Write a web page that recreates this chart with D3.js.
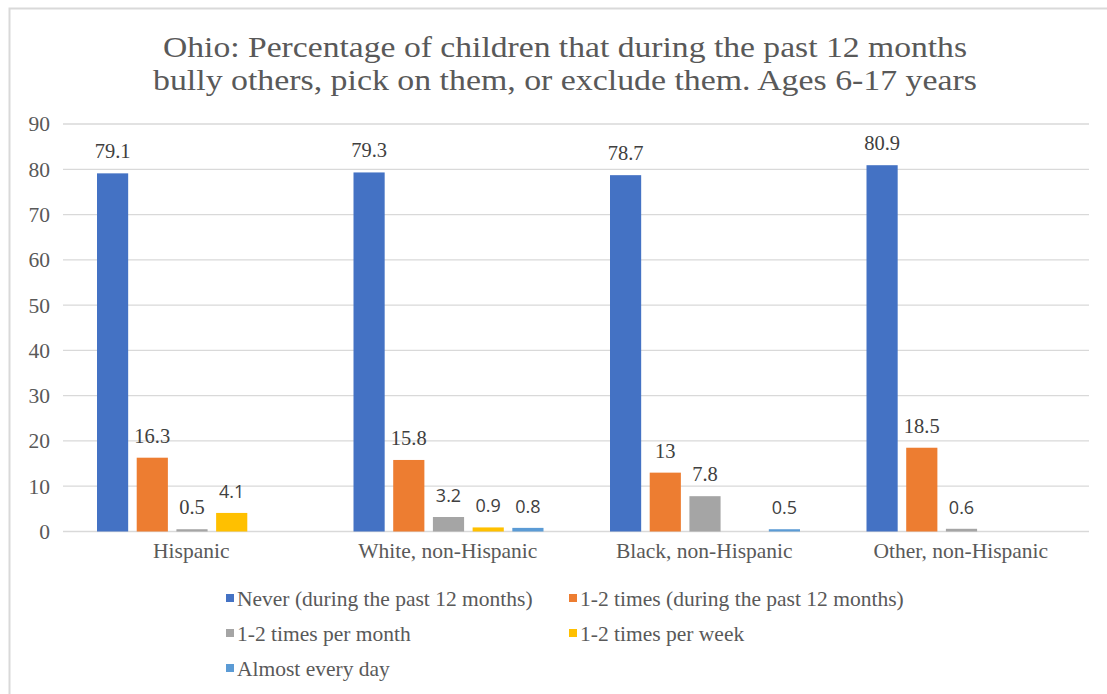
<!DOCTYPE html>
<html>
<head>
<meta charset="utf-8">
<script src="https://cdn.jsdelivr.net/npm/d3@7"></script>
<style>
  html, body { margin: 0; padding: 0; background: #ffffff; }
  svg { display: block; }
</style>
</head>
<body>
<svg id="chart" width="1107" height="694"></svg>
<script>
// Race / ethnicity groups along the x axis
const categories = ["Hispanic", "White, non-Hispanic", "Black, non-Hispanic", "Other, non-Hispanic"];

// Frequency series (legend order)
const seriesNames = [
  "Never (during the past 12 months)",
  "1-2 times (during the past 12 months)",
  "1-2 times per month",
  "1-2 times per week",
  "Almost every day"
];

// Percentages per series, one value per category (null = not reported)
const never        = [79.1, 79.3, 78.7, 80.9];
const onceOrTwice  = [16.3, 15.8, 13,   18.5];
const perMonth     = [0.5,  3.2,  7.8,  0.6];
const perWeek      = [4.1,  0.9,  null, null];
const almostDaily  = [null, 0.8,  0.5,  null];

const yTicks = [0, 10, 20, 30, 40, 50, 60, 70, 80, 90];

const seriesValues = [never, onceOrTwice, perMonth, perWeek, almostDaily];
const colors = ["#4472C4", "#ED7D31", "#A5A5A5", "#FFC000", "#5B9BD5"];

// Data labels set in the sans face ("category index|series index")
const sansLabels = new Set(["0|3", "1|2", "1|3", "1|4", "2|4", "3|2"]);

const serif = "'Liberation Serif', 'Times New Roman', serif";
const sans = "'Open Sans', 'Liberation Sans', sans-serif";

const svg = d3.select("#chart");

// Outer chart frame
svg.append("rect")
  .attr("x", 9.5).attr("y", 8.5)
  .attr("width", 1120).attr("height", 720)
  .attr("fill", "#ffffff")
  .attr("stroke", "#d9d9d9").attr("stroke-width", 2);

// Title (two lines, slightly widened glyphs)
const titleLines = [
  { text: "Ohio: Percentage of children that during the past 12 months", y: 57, len: 804 },
  { text: "bully others, pick on them, or exclude them. Ages 6-17 years", y: 90, len: 824 }
];
svg.append("g")
  .selectAll("text")
  .data(titleLines)
  .join("text")
  .attr("x", 565)
  .attr("y", d => d.y)
  .attr("text-anchor", "middle")
  .attr("font-family", serif)
  .attr("font-size", 30)
  .attr("fill", "#595959")
  .attr("textLength", d => d.len)
  .attr("lengthAdjust", "spacingAndGlyphs")
  .text(d => d.text);

const plotLeft = 63, plotRight = 1089, plotTop = 124, plotBottom = 531.5;

const y = d3.scaleLinear().domain([0, 90]).range([plotBottom, plotTop]);
const x0 = d3.scaleBand().domain(categories).range([plotLeft, plotRight]).padding(0);
const x1 = d3.scaleBand().domain(d3.range(seriesNames.length))
  .range([34, 224]).paddingInner(0.215).paddingOuter(0);

// Horizontal gridlines
svg.append("g")
  .selectAll("line")
  .data(yTicks)
  .join("line")
  .attr("x1", plotLeft).attr("x2", plotRight)
  .attr("y1", d => y(d)).attr("y2", d => y(d))
  .attr("stroke", "#d9d9d9").attr("stroke-width", 1.3);

// Y axis labels
const yAxis = d3.axisLeft(y).tickValues(yTicks).tickSize(0).tickPadding(0);
const yg = svg.append("g").attr("transform", `translate(${plotLeft - 13},0)`).call(yAxis);
yg.select(".domain").remove();
yg.selectAll("text")
  .attr("font-family", serif).attr("font-size", 21.5)
  .attr("fill", "#595959");

// X axis labels
const xAxis = d3.axisBottom(x0).tickSize(0).tickPadding(0);
const xg = svg.append("g").attr("transform", `translate(0,${plotBottom + 11})`).call(xAxis);
xg.select(".domain").remove();
xg.selectAll("text")
  .attr("font-family", serif).attr("font-size", 21.5)
  .attr("fill", "#595959");

// Flatten into bar records
const bars = [];
categories.forEach((c, ci) => {
  seriesValues.forEach((vals, si) => {
    const v = vals[ci];
    if (v !== null && v !== undefined) bars.push({ c, ci, si, v });
  });
});

const groups = svg.append("g");
groups.selectAll("rect")
  .data(bars)
  .join("rect")
  .attr("x", d => x0(d.c) + x1(d.si))
  .attr("y", d => y(d.v))
  .attr("width", x1.bandwidth())
  .attr("height", d => y(0) - y(d.v))
  .attr("fill", d => colors[d.si]);

// Value labels
groups.selectAll("text")
  .data(bars)
  .join("text")
  .attr("x", d => x0(d.c) + x1(d.si) + x1.bandwidth() / 2)
  .attr("y", d => y(d.v) - 15)
  .attr("text-anchor", "middle")
  .attr("font-family", d => sansLabels.has(d.ci + "|" + d.si) ? sans : serif)
  .attr("font-size", d => sansLabels.has(d.ci + "|" + d.si) ? 18 : 20.5)
  .attr("fill", "#404040")
  .text(d => d.v);

// Legend
const legendPos = [[226, 598], [569, 598], [226, 633], [569, 633], [226, 668]];
const legend = svg.append("g")
  .selectAll("g")
  .data(seriesNames)
  .join("g")
  .attr("transform", (d, i) => `translate(${legendPos[i][0]},${legendPos[i][1]})`);
legend.append("rect")
  .attr("x", 0).attr("y", -4)
  .attr("width", 8).attr("height", 8)
  .attr("fill", (d, i) => colors[i]);
legend.append("text")
  .attr("x", 11).attr("y", 0)
  .attr("dy", "0.35em")
  .attr("font-family", serif).attr("font-size", 21.5)
  .attr("fill", "#595959")
  .text(d => d);
</script>
</body>
</html>
